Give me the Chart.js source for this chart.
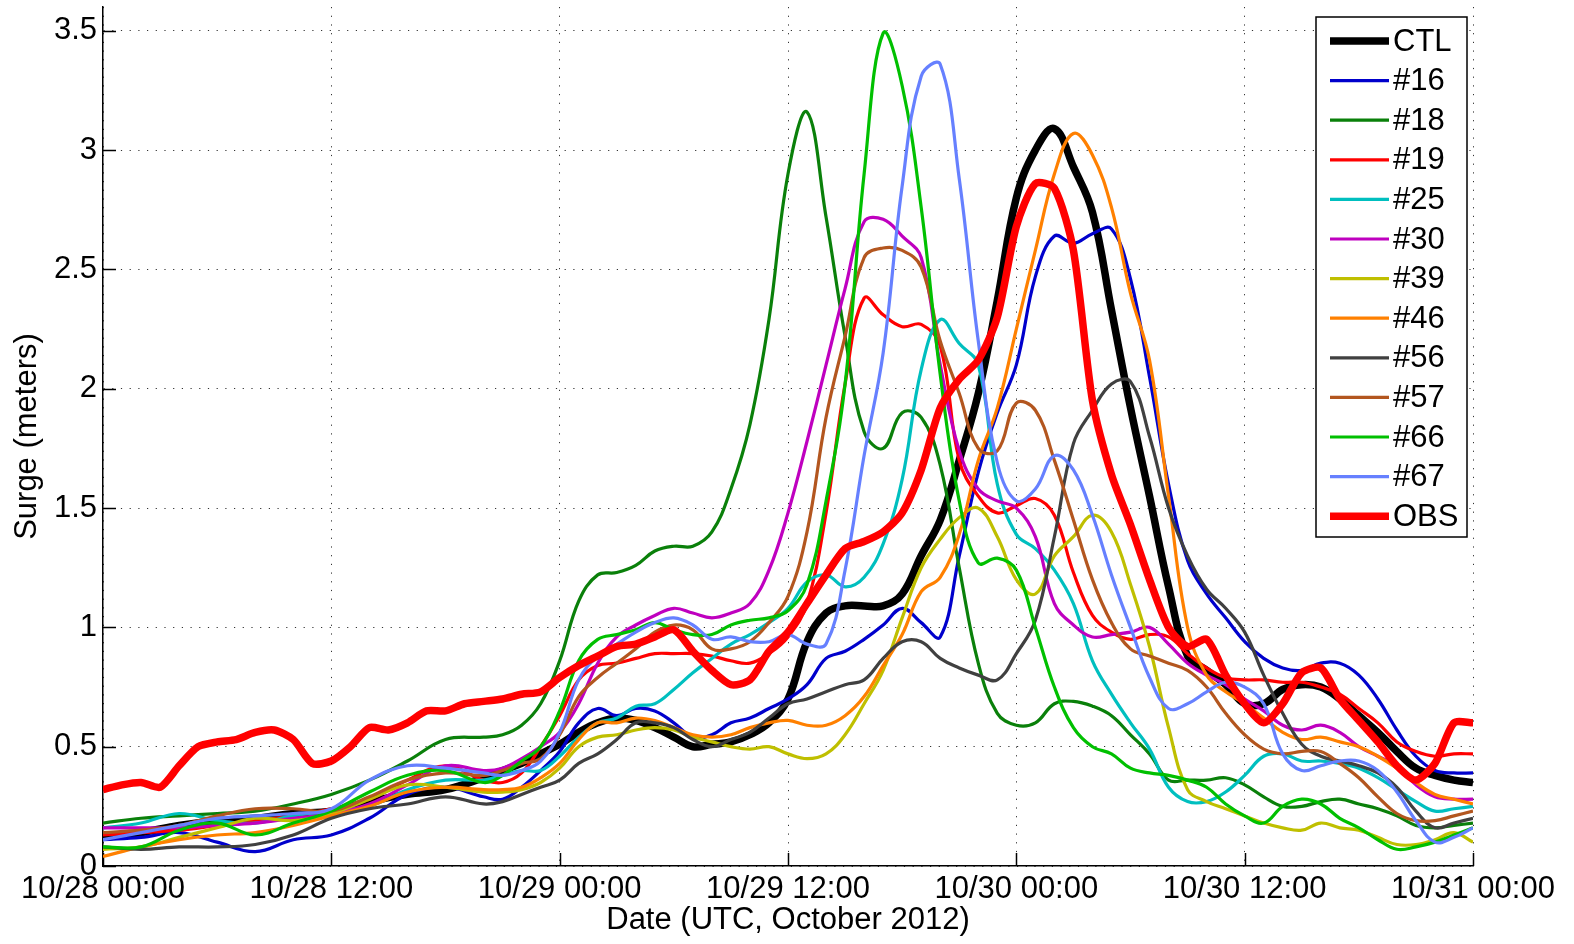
<!DOCTYPE html>
<html lang="en">

<head>
    <meta charset="UTF-8">
    <title>Surge - Sandy ensemble</title>
    <script src="https://cdn.jsdelivr.net/npm/chart.js"></script>
    <style>
        body { margin: 0; background: #fff; }
        #wrap { width: 1574px; height: 944px; }
    </style>
</head>

<body>
    <div id="wrap"><canvas id="surgeChart"></canvas></div>
<script>
    // hours after 10/28 00:00 UTC
    const dateLabels = ['10/28 00:00', '10/28 12:00', '10/29 00:00', '10/29 12:00', '10/30 00:00', '10/30 12:00', '10/31 00:00']

    const hours = [0, 2, 4, 6, 8, 10, 12, 14, 16, 18, 20,
        21, 22, 23, 24, 25, 26, 27, 28, 29, 30,
        31, 32, 33, 34, 35, 36, 37, 38, 39, 40,
        41, 42, 43, 44, 45, 46, 47, 48, 49, 50,
        51, 52, 53, 54, 55, 56, 57, 58, 59, 60,
        61, 62, 63, 64, 65, 66, 67, 68, 69, 70,
        71, 72]

    const obsHours = [0, 1, 2, 3, 4, 5, 6, 7, 8, 9,
        10, 11, 12, 13, 14, 15, 16, 17, 18, 19,
        20, 21, 22, 23, 24, 25, 26, 27, 28, 29,
        30, 31, 32, 33, 34, 35, 36, 37, 38, 39,
        40, 41, 42, 43, 44, 45, 46, 47, 48, 49,
        50, 51, 52, 53, 54, 55, 56, 57, 58, 59,
        60, 61, 62, 63, 64, 65, 66, 67, 68, 69,
        70, 71, 72]

    const ctl = [0.12, 0.14, 0.17, 0.19, 0.20, 0.22, 0.23, 0.27, 0.30, 0.32, 0.37,
        0.40, 0.43, 0.47, 0.51, 0.56, 0.60, 0.62, 0.61, 0.58, 0.54,
        0.50, 0.51, 0.52, 0.55, 0.60, 0.70, 0.94, 1.06, 1.09, 1.09,
        1.09, 1.14, 1.30, 1.45, 1.70, 1.98, 2.37, 2.80, 3.00, 3.09,
        2.93, 2.74, 2.33, 1.92, 1.55, 1.17, 0.88, 0.82, 0.76, 0.68,
        0.68, 0.74, 0.76, 0.75, 0.70, 0.63, 0.56, 0.48, 0.41, 0.38,
        0.36, 0.35]

    const m16 = [0.11, 0.12, 0.14, 0.10, 0.06, 0.11, 0.13, 0.20, 0.30, 0.33, 0.29,
        0.28, 0.33, 0.40, 0.48, 0.60, 0.66, 0.63, 0.66, 0.65, 0.60,
        0.54, 0.55, 0.60, 0.62, 0.66, 0.70, 0.76, 0.87, 0.90, 0.95,
        1.01, 1.08, 1.02, 0.96, 1.30, 1.65, 1.90, 2.10, 2.47, 2.64,
        2.61, 2.65, 2.67, 2.46, 2.05, 1.60, 1.28, 1.14, 1.04, 0.94,
        0.87, 0.83, 0.82, 0.85, 0.85, 0.80, 0.70, 0.57, 0.46, 0.40,
        0.39, 0.39]

    const m18 = [0.18, 0.20, 0.21, 0.22, 0.23, 0.26, 0.30, 0.36, 0.44, 0.53, 0.54,
        0.55, 0.59, 0.68, 0.86, 1.11, 1.22, 1.23, 1.26, 1.32, 1.34,
        1.34, 1.40, 1.58, 1.85, 2.29, 2.90, 3.16, 2.72, 2.22, 1.82,
        1.75, 1.90, 1.88, 1.68, 1.25, 0.85, 0.64, 0.59, 0.60, 0.68,
        0.69, 0.67, 0.63, 0.55, 0.47, 0.36, 0.36, 0.36, 0.37, 0.34,
        0.29, 0.25, 0.25, 0.27, 0.28, 0.26, 0.24, 0.21, 0.17, 0.16,
        0.17, 0.18]

    const m19 = [0.13, 0.14, 0.15, 0.17, 0.19, 0.21, 0.24, 0.28, 0.36, 0.42, 0.36,
        0.35, 0.39, 0.50, 0.63, 0.78, 0.84, 0.85, 0.87, 0.89, 0.89,
        0.89, 0.88, 0.86, 0.85, 0.89, 0.96, 1.10, 1.48, 2.02, 2.38,
        2.31, 2.26, 2.27, 2.18, 1.70, 1.55, 1.48, 1.51, 1.54, 1.47,
        1.23, 1.05, 0.98, 0.95, 0.97, 0.96, 0.89, 0.83, 0.79, 0.78,
        0.78, 0.77, 0.77, 0.75, 0.72, 0.66, 0.60, 0.52, 0.48, 0.46,
        0.47, 0.47]

    const m25 = [0.16, 0.18, 0.22, 0.19, 0.18, 0.21, 0.23, 0.25, 0.32, 0.36, 0.36,
        0.38, 0.40, 0.40, 0.46, 0.54, 0.60, 0.62, 0.67, 0.68, 0.74,
        0.81, 0.87, 0.93, 0.97, 1.02, 1.08, 1.19, 1.22, 1.17, 1.21,
        1.35, 1.62, 2.08, 2.29, 2.19, 2.10, 1.60, 1.39, 1.33, 1.24,
        1.10, 0.86, 0.72, 0.60, 0.49, 0.33, 0.27, 0.27, 0.31, 0.38,
        0.46, 0.47, 0.44, 0.44, 0.43, 0.41, 0.37, 0.32, 0.27, 0.23,
        0.24, 0.25]

    const m30 = [0.16, 0.16, 0.16, 0.17, 0.18, 0.20, 0.22, 0.26, 0.34, 0.42, 0.40,
        0.41, 0.45, 0.50, 0.56, 0.68, 0.85, 0.96, 1.01, 1.05, 1.08,
        1.06, 1.04, 1.06, 1.10, 1.24, 1.48, 1.78, 2.10, 2.42, 2.70,
        2.71, 2.64, 2.55, 2.10, 1.74, 1.58, 1.53, 1.50, 1.38, 1.10,
        1.01, 0.96, 0.97, 0.98, 1.00, 0.93, 0.85, 0.80, 0.76, 0.70,
        0.65, 0.59, 0.57, 0.59, 0.56, 0.50, 0.46, 0.42, 0.34, 0.29,
        0.28, 0.28]

    const m39 = [0.07, 0.08, 0.12, 0.16, 0.20, 0.19, 0.22, 0.28, 0.34, 0.33, 0.31,
        0.31, 0.32, 0.35, 0.41, 0.50, 0.54, 0.55, 0.57, 0.58, 0.57,
        0.54, 0.52, 0.50, 0.49, 0.50, 0.47, 0.45, 0.47, 0.55, 0.68,
        0.82, 1.04, 1.25, 1.37, 1.46, 1.50, 1.38, 1.20, 1.14, 1.30,
        1.38, 1.47, 1.40, 1.18, 0.92, 0.58, 0.32, 0.27, 0.24, 0.21,
        0.18, 0.16, 0.15, 0.18, 0.16, 0.15, 0.12, 0.09, 0.09, 0.11,
        0.14, 0.10]

    const m46 = [0.04, 0.08, 0.11, 0.13, 0.14, 0.17, 0.21, 0.25, 0.31, 0.33, 0.32,
        0.32, 0.33, 0.37, 0.43, 0.53, 0.60, 0.60, 0.62, 0.61, 0.58,
        0.55, 0.54, 0.55, 0.58, 0.60, 0.61, 0.59, 0.59, 0.63, 0.71,
        0.84, 0.97, 1.15, 1.21, 1.39, 1.70, 1.92, 2.25, 2.58, 2.90,
        3.07, 2.98, 2.76, 2.40, 2.12, 1.55, 1.00, 0.80, 0.73, 0.68,
        0.62, 0.56, 0.53, 0.54, 0.52, 0.50, 0.46, 0.41, 0.35, 0.30,
        0.28, 0.26]

    const m56 = [0.08, 0.07, 0.08, 0.08, 0.09, 0.13, 0.20, 0.24, 0.26, 0.29, 0.26,
        0.27, 0.30, 0.33, 0.36, 0.43, 0.47, 0.53, 0.60, 0.60, 0.58,
        0.53, 0.50, 0.53, 0.56, 0.62, 0.68, 0.70, 0.73, 0.76, 0.78,
        0.87, 0.94, 0.94, 0.87, 0.83, 0.80, 0.78, 0.89, 1.03, 1.38,
        1.77, 1.91, 2.02, 2.03, 1.80, 1.50, 1.30, 1.16, 1.08, 0.98,
        0.80, 0.64, 0.51, 0.46, 0.44, 0.42, 0.39, 0.33, 0.23, 0.16,
        0.18, 0.20]

    const m57 = [0.14, 0.15, 0.17, 0.21, 0.24, 0.24, 0.23, 0.29, 0.36, 0.39, 0.38,
        0.40, 0.43, 0.45, 0.55, 0.71, 0.79, 0.85, 0.91, 0.98, 1.01,
        0.99, 0.91, 0.91, 0.94, 1.02, 1.13, 1.40, 1.88, 2.22, 2.55,
        2.59, 2.58, 2.51, 2.20, 1.98, 1.75, 1.74, 1.94, 1.91, 1.70,
        1.45, 1.20, 1.02, 0.91, 0.88, 0.85, 0.82, 0.75, 0.64, 0.55,
        0.49, 0.47, 0.48, 0.48, 0.43, 0.37, 0.29, 0.22, 0.19, 0.19,
        0.21, 0.23]

    const m66 = [0.08, 0.08, 0.15, 0.18, 0.13, 0.18, 0.23, 0.31, 0.38, 0.40, 0.35,
        0.38, 0.44, 0.50, 0.65, 0.86, 0.95, 0.97, 0.99, 1.02, 0.99,
        0.97, 0.97, 1.01, 1.03, 1.04, 1.07, 1.18, 1.53, 2.02, 2.90,
        3.49, 3.27, 2.76, 2.06, 1.53, 1.27, 1.29, 1.24, 1.00, 0.75,
        0.58, 0.50, 0.47, 0.41, 0.39, 0.38, 0.36, 0.33, 0.26, 0.21,
        0.18, 0.25, 0.28, 0.26, 0.20, 0.16, 0.11, 0.07, 0.08, 0.10,
        0.13, 0.16]

    const m67 = [0.11, 0.14, 0.17, 0.20, 0.21, 0.22, 0.24, 0.36, 0.42, 0.41, 0.39,
        0.38, 0.40, 0.44, 0.56, 0.78, 0.88, 0.93, 0.98, 1.02, 1.04,
        1.01, 0.95, 0.96, 0.94, 0.94, 0.97, 0.93, 0.93, 1.24, 1.72,
        2.15, 2.85, 3.31, 3.36, 2.88, 2.20, 1.69, 1.53, 1.58, 1.72,
        1.66, 1.47, 1.22, 1.00, 0.79, 0.66, 0.68, 0.73, 0.77, 0.75,
        0.68, 0.47, 0.40, 0.42, 0.44, 0.44, 0.40, 0.31, 0.19, 0.10,
        0.12, 0.16]

    const obs = [0.32, 0.34, 0.35, 0.33, 0.42, 0.50, 0.52, 0.53, 0.56, 0.57,
        0.53, 0.43, 0.44, 0.50, 0.58, 0.57, 0.60, 0.65, 0.65, 0.68,
        0.69, 0.70, 0.72, 0.73, 0.79, 0.84, 0.88, 0.92, 0.93, 0.96,
        0.99, 0.90, 0.82, 0.76, 0.78, 0.90, 0.98, 1.10, 1.22, 1.33,
        1.36, 1.40, 1.48, 1.66, 1.92, 2.04, 2.12, 2.30, 2.68, 2.86,
        2.84, 2.58, 1.95, 1.64, 1.43, 1.20, 1.00, 0.92, 0.95, 0.80,
        0.68, 0.60, 0.68, 0.81, 0.83, 0.70, 0.61, 0.52, 0.42, 0.36,
        0.43, 0.60, 0.60]

    const FONT = '"Liberation Sans", Arial, Helvetica, sans-serif'

    function series(label, xs, ys, color, width, tension) {
        return {
            label: label,
            data: xs.map((h, i) => ({ x: h, y: ys[i] })),
            borderColor: color,
            borderWidth: width,
            pointRadius: 0,
            tension: tension,
            fill: false
        }
    }

    let datasets = [
        series('CTL', hours, ctl, '#000000', 7.5, 0.4),
        series('#16', hours, m16, '#0000CC', 3.2, 0.4),
        series('#18', hours, m18, '#0A800A', 3.2, 0.4),
        series('#19', hours, m19, '#FF0000', 3.2, 0.4),
        series('#25', hours, m25, '#00BFBF', 3.2, 0.4),
        series('#30', hours, m30, '#BF00BF', 3.2, 0.4),
        series('#39', hours, m39, '#BFBF00', 3.2, 0.4),
        series('#46', hours, m46, '#FF8000', 3.2, 0.4),
        series('#56', hours, m56, '#404040', 3.2, 0.4),
        series('#57', hours, m57, '#B3561F', 3.2, 0.4),
        series('#66', hours, m66, '#00C000', 3.2, 0.4),
        series('#67', hours, m67, '#6680FF', 3.2, 0.4),
        series('OBS', obsHours, obs, '#FF0000', 7.5, 0.25)
    ]
    // matlab plot order: later lines on top
    datasets.forEach((ds, i) => ds.order = datasets.length - i)

    // ticks pointing into the plot, like the original axes
    const inwardTicks = {
        id: 'inwardTicks',
        beforeDatasetsDraw(chart) {
            const { ctx, chartArea: a, scales: { x, y } } = chart
            ctx.save()
            ctx.strokeStyle = '#000'
            ctx.lineWidth = 1.5
            ctx.beginPath()
            x.ticks.forEach(t => {
                let px = Math.round(x.getPixelForValue(t.value)) + 0.5
                ctx.moveTo(px, a.bottom)
                ctx.lineTo(px, a.bottom - 13)
            })
            y.ticks.forEach(t => {
                let py = Math.round(y.getPixelForValue(t.value)) + 0.5
                ctx.moveTo(a.left, py)
                ctx.lineTo(a.left + 13, py)
            })
            ctx.stroke()
            ctx.restore()
        }
    }

    // boxed legend in the upper right corner
    const boxLegend = {
        id: 'boxLegend',
        afterDraw(chart) {
            const ctx = chart.ctx
            const a = chart.chartArea
            const x0 = a.right - 157, y0 = a.top + 10, w = 151, h = 520
            ctx.save()
            ctx.fillStyle = '#fff'
            ctx.fillRect(x0, y0, w, h)
            ctx.strokeStyle = '#000'
            ctx.lineWidth = 1.5
            ctx.strokeRect(x0, y0, w, h)
            ctx.font = '31px ' + FONT
            ctx.textBaseline = 'middle'
            chart.data.datasets.forEach((ds, i) => {
                let yy = y0 + 24 + i * 39.6
                ctx.strokeStyle = ds.borderColor
                ctx.lineWidth = ds.borderWidth
                ctx.beginPath()
                ctx.moveTo(x0 + 14, yy)
                ctx.lineTo(x0 + 73, yy)
                ctx.stroke()
                ctx.fillStyle = '#000'
                ctx.fillText(ds.label, x0 + 77, yy + 1)
            })
            ctx.restore()
        }
    }

    Chart.defaults.font.family = FONT
    Chart.defaults.color = '#000'

    let ctx = document.getElementById('surgeChart')
    let chart = new Chart(ctx, {
        type: 'line',
        data: { datasets: datasets },
        options: {
            responsive: true,
            maintainAspectRatio: false,
            animation: false,
            layout: { padding: { left: 0, right: 101, top: 7, bottom: 0 } },
            plugins: { legend: { display: false }, tooltip: { enabled: false } },
            scales: {
                x: {
                    type: 'linear',
                    min: 0,
                    max: 72,
                    afterFit: s => { s.height = 78 },
                    ticks: {
                        stepSize: 12,
                        padding: 5,
                        maxRotation: 0,
                        font: { size: 31 },
                        callback: v => dateLabels[v / 12]
                    },
                    grid: { color: '#333', lineWidth: 1, drawTicks: false },
                    border: { display: true, color: '#000', width: 1.5, dash: [1.2, 7.5] },
                    title: {
                        display: true,
                        text: 'Date (UTC, October 2012)',
                        font: { size: 31 },
                        padding: { top: 0, bottom: 5 }
                    }
                },
                y: {
                    min: 0,
                    max: 3.6,
                    afterFit: s => {
                        s.width = 103
                        s.paddingTop = 0
                        s.paddingBottom = 0
                    },
                    ticks: {
                        stepSize: 0.5,
                        includeBounds: false,
                        padding: 6,
                        font: { size: 31 },
                        callback: v => String(v)
                    },
                    grid: { color: '#333', lineWidth: 1, drawTicks: false },
                    border: { display: true, color: '#000', width: 1.5, dash: [1.2, 7.5] },
                    title: {
                        display: true,
                        text: 'Surge (meters)',
                        font: { size: 31 },
                        padding: { top: 9, bottom: 0 }
                    }
                }
            }
        },
        plugins: [inwardTicks, boxLegend]
    })
</script>
</body>

</html>
